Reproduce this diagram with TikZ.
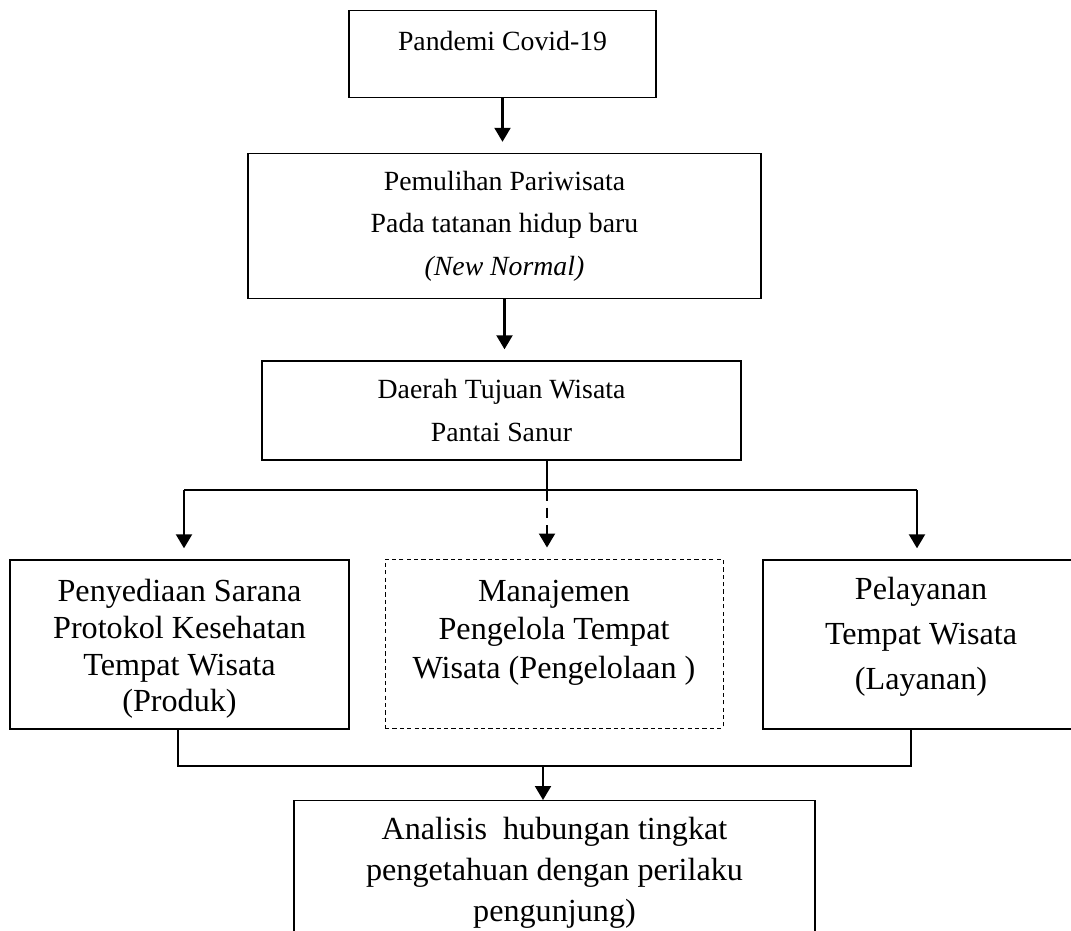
\documentclass[tikz,border=0pt]{standalone}
\usepackage{fontspec}
\setmainfont{Liberation Serif}
\usetikzlibrary{arrows.meta}
\tikzstyle{kotak} = [rectangle,draw,line width=.8pt,align=center,inner sep=.1cm,font=\fontsize{15.8}{22.8}\selectfont]
\tikzstyle{kotakputus} = [kotak,line width=.55pt,dash pattern=on 2.4pt off 1.8pt]
\tikzstyle{garis} = [line width=1.2pt]
\tikzstyle{panah} = [garis,-{Triangle[width=.32cm,length=.28cm]},shorten >=.22cm]

\begin{document}
\begin{tikzpicture}
\useasboundingbox (0,0) rectangle (21.42,-18.62);
\clip (0,0) rectangle (21.42,-18.62);

\node [kotak,anchor=north,minimum width=6.14cm,text height=.7cm,text depth=.84cm](pandemi) at (10.05,-.2){Pandemi Covid-19};
\node [kotak,minimum width=10.26cm,minimum height=2.9cm,font=\fontsize{15.8}{24.2}\selectfont](pulih) at (10.09,-4.52){Pemulihan Pariwisata\\ Pada tatanan hidup baru\\ \textit{(New Normal)}};
\node [kotak,minimum width=9.58cm,minimum height=1.98cm,font=\fontsize{15.8}{24.5}\selectfont](daerah) at (10.03,-8.21){Daerah Tujuan Wisata\\ Pantai Sanur};
\node [kotak,minimum width=6.78cm,minimum height=3.38cm,font=\fontsize{18.3}{20.9}\selectfont](sarana) at (3.59,-12.89){Penyediaan Sarana\\ Protokol Kesehatan\\ Tempat Wisata\\ (Produk)\\[-28.5pt]\strut};
\node [kotakputus,minimum width=6.76cm,minimum height=3.38cm,font=\fontsize{18.3}{21.9}\selectfont](manajemen) at (11.08,-12.87){Manajemen\\ Pengelola Tempat\\ Wisata (Pengelolaan )\\[-12.1pt]\strut};
\node [kotak,minimum width=6.32cm,minimum height=3.38cm,font=\fontsize{18.3}{25.6}\selectfont](layanan) at (18.42,-12.89){Pelayanan\\ Tempat Wisata\\ (Layanan)\\[-20.9pt]\strut};
\node [kotak,anchor=north,minimum width=10.42cm,inner ysep=.32cm,font=\fontsize{18.3}{23.6}\selectfont](analisis) at (11.09,-16){Analisis~ hubungan tingkat\\ pengetahuan dengan perilaku\\ pengunjung)};

\coordinate (cabang) at (10.94,-9.8);
\coordinate (kiri) at (3.68,-9.8);
\coordinate (kanan) at (18.34,-9.8);
\coordinate (gabung) at (10.86,-15.32);
\coordinate (ujung) at (18.22,-15.32);

\draw[panah](pandemi)--(pandemi |- pulih.north);
\draw[panah](pulih)--(pulih |- daerah.north);
\draw[garis](daerah.south -| cabang)--(cabang);
\draw[garis](kiri)--(kanan);
\draw[panah](kiri)--(kiri |- sarana.north);
\draw[panah](kanan)--(kanan |- layanan.north);
\draw[panah,dash pattern=on 6pt off 4pt](cabang)--(cabang |- manajemen.north);
\draw[garis](sarana.south -| 3.56,0)|-(ujung)--(ujung |- layanan.south);
\draw[panah,shorten >=0pt](gabung)--(gabung |- analisis.north);

\end{tikzpicture}
\end{document}
